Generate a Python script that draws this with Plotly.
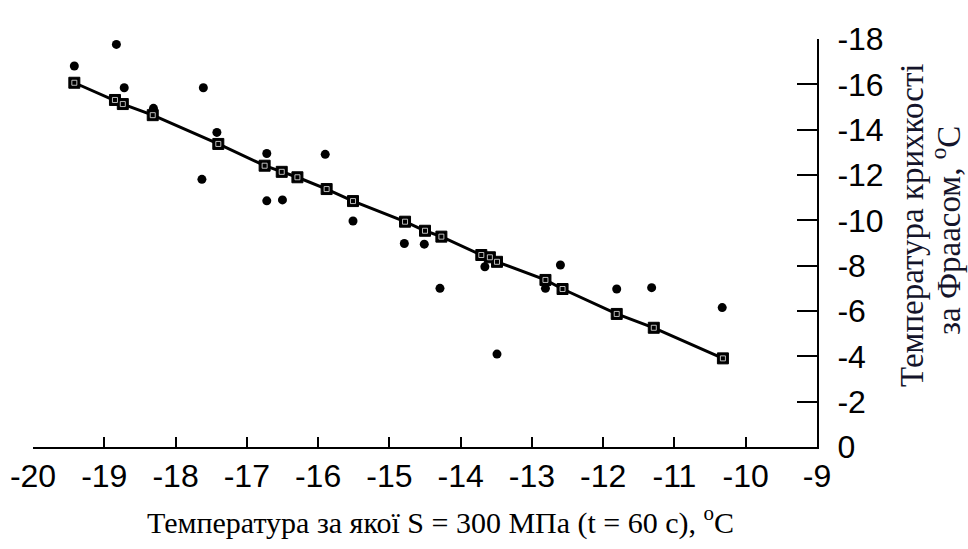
import plotly.graph_objects as go

# Fitted line points (squares)
line_x = [-19.42, -18.85, -18.74, -18.32, -17.40, -16.75, -16.51, -16.29, -15.88,
          -15.51, -14.78, -14.50, -14.27, -13.71, -13.59, -13.49, -12.81, -12.57,
          -11.81, -11.29, -10.32]
line_y = [-16.07, -15.31, -15.13, -14.64, -13.37, -12.41, -12.14, -11.90, -11.38,
          -10.85, -9.94, -9.54, -9.28, -8.47, -8.37, -8.17, -7.37, -6.97,
          -5.87, -5.26, -3.91]

# Measured points (dots)
pts_x = [-19.42, -18.83, -18.72, -18.31, -17.61, -17.42, -17.63, -16.72, -16.72,
         -16.50, -15.90, -15.51, -14.79, -14.51, -14.29, -13.66, -13.49, -12.81,
         -12.60, -11.81, -11.32, -10.33]
pts_y = [-16.81, -17.76, -15.85, -14.94, -15.85, -13.88, -11.81, -12.95, -10.86,
         -10.90, -12.91, -9.97, -8.98, -8.95, -7.00, -7.95, -4.10, -7.00,
         -8.03, -6.97, -7.03, -6.15]

x_ticks = [-20, -19, -18, -17, -16, -15, -14, -13, -12, -11, -10, -9]
y_ticks = [-18, -16, -14, -12, -10, -8, -6, -4, -2, 0]

fig = go.Figure()
fig.add_trace(go.Scatter(x=pts_x, y=pts_y, mode="markers",
                         marker=dict(symbol="circle", size=9, color="black"),
                         showlegend=False))
fig.add_trace(go.Scatter(x=line_x, y=line_y, mode="lines+markers",
                         line=dict(color="black", width=3),
                         marker=dict(symbol="square", size=11, color="black",
                                     line=dict(color="black", width=1)),
                         showlegend=False))
fig.add_trace(go.Scatter(x=line_x, y=line_y, mode="markers",
                         marker=dict(symbol="square-open", size=5, color="#e8e8e8",
                                     line=dict(color="#e8e8e8", width=0.8)),
                         showlegend=False))

tick_font = dict(size=32, family="Liberation Sans, Arial, sans-serif", color="black")

fig.update_layout(
    width=968, height=549,
    margin=dict(l=33, r=151, t=39, b=102, autoexpand=False),
    paper_bgcolor="white", plot_bgcolor="white",
    font=dict(family="Liberation Sans, Arial, sans-serif", color="black"),
    xaxis=dict(range=[-20, -9], tickvals=x_ticks, ticktext=[str(v) for v in x_ticks],
               showgrid=False, zeroline=False, showline=True, linecolor="black",
               linewidth=2, ticks="inside", ticklen=10, tickwidth=1.5, tickcolor="black",
               tickfont=tick_font, ticklabelstandoff=0, automargin=False),
    yaxis=dict(range=[0, -18], tickvals=y_ticks, ticktext=[str(v) for v in y_ticks],
               side="right", showgrid=False, zeroline=False, showline=True,
               linecolor="black", linewidth=2, ticks="inside", ticklen=20,
               tickwidth=1.5, tickcolor="black",
               tickfont=tick_font, ticklabelstandoff=12, automargin=False),
)

serif = "Liberation Serif, Times New Roman, serif"

fig.add_annotation(
    text="Температура за якої S = 300 МПа (t = 60 c), <sup>o</sup>C",
    xref="paper", yref="paper", x=(440 - 33) / 784, y=-(520 - 447) / 408,
    showarrow=False, xanchor="center", yanchor="middle",
    font=dict(family=serif, size=30, color="black"))

fig.add_annotation(
    text="Температура крихкості",
    xref="paper", yref="paper", x=(912 - 33) / 784, y=(447 - 225) / 408,
    showarrow=False, xanchor="center", yanchor="middle", textangle=-90,
    font=dict(family=serif, size=33, color="#14142a"))

fig.add_annotation(
    text="за Фраасом, <sup>o</sup>C",
    xref="paper", yref="paper", x=(946 - 33) / 784, y=(447 - 230) / 408,
    showarrow=False, xanchor="center", yanchor="middle", textangle=-90,
    font=dict(family=serif, size=33, color="#14142a"))

fig.write_html("out.html")
